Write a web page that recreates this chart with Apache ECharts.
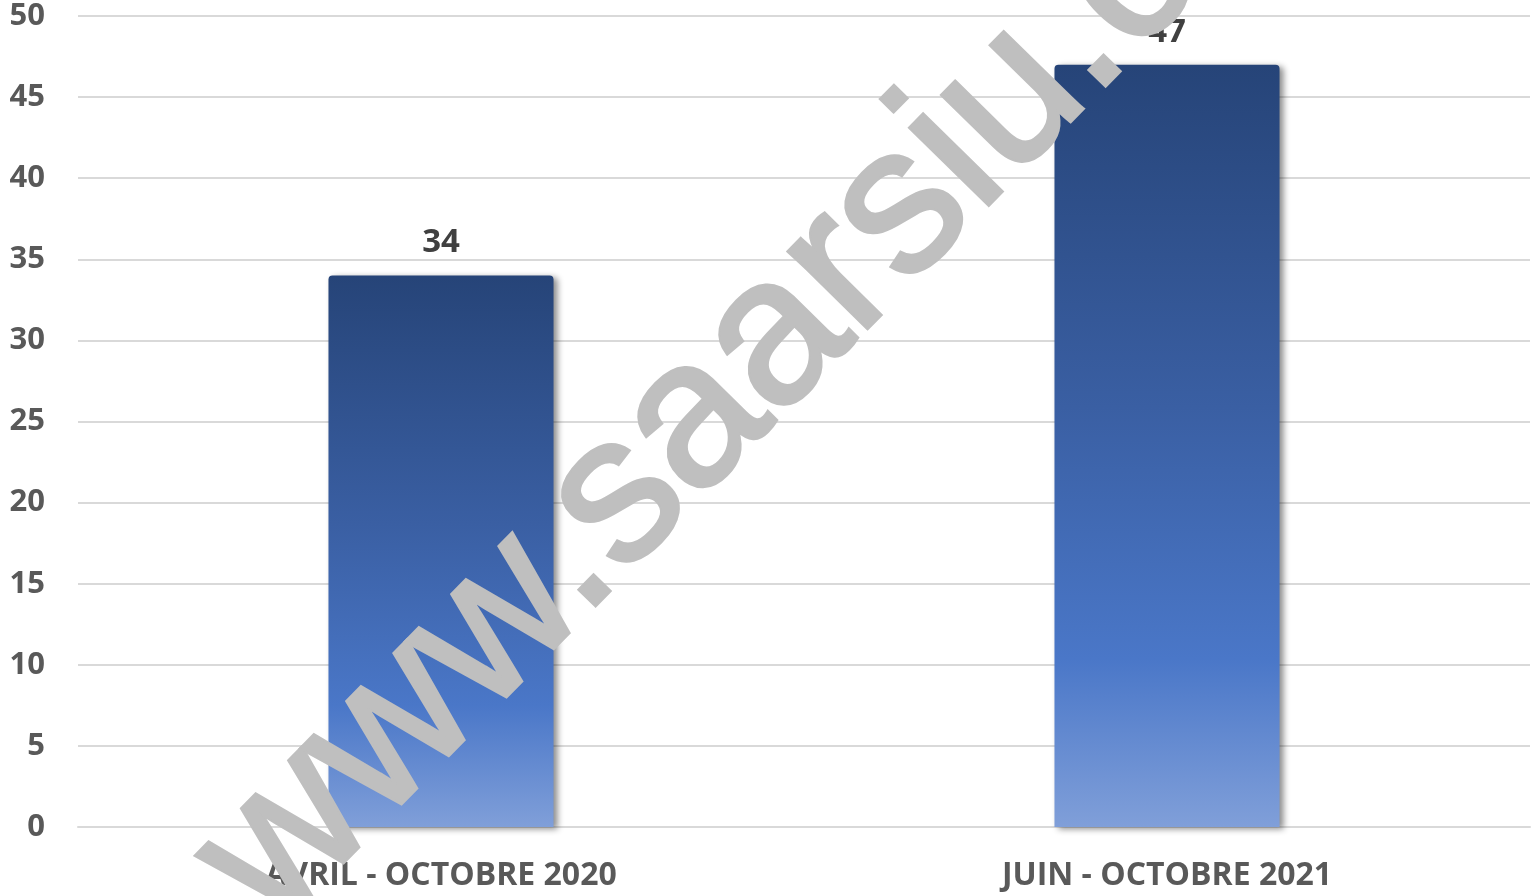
<!DOCTYPE html>
<html>
<head>
<meta charset="utf-8">
<script src="https://cdn.jsdelivr.net/npm/echarts@6/dist/echarts.min.js"></script>
<style>
  html, body { margin: 0; padding: 0; background: #fff; }
  #chart { width: 1532px; height: 896px; }
</style>
</head>
<body>
<div id="chart"></div>
<script>
// periods on the x axis
const periods = ['AVRIL - OCTOBRE 2020', 'JUIN - OCTOBRE 2021'];
// bar values
const values = [34, 47];
// y axis range
const yMin = 0, yMax = 50, yStep = 5;

const barColor = {
  type: 'linear', x: 0, y: 0, x2: 0, y2: 1,
  colorStops: [
    {offset: 0, color: '#264478'},
    {offset: 0.45, color: '#3a5fa3'},
    {offset: 0.78, color: '#4a77c8'},
    {offset: 1, color: '#809fd9'}
  ]
};

const chart = echarts.init(document.getElementById('chart'));
chart.setOption({
  animation: false,
  textStyle: { fontFamily: 'Open Sans' },
  grid: { left: 78, right: 2, top: 16, bottom: 69, containLabel: false },
  xAxis: {
    type: 'category',
    data: periods,
    axisLine: { show: true, lineStyle: { color: '#d9d9d9', width: 2 } },
    axisTick: { show: false },
    axisLabel: {
      margin: 33, color: '#595959', fontSize: 32, fontWeight: 'bold',
      fontFamily: 'Open Sans'
    }
  },
  yAxis: {
    type: 'value',
    min: yMin, max: yMax, interval: yStep,
    axisLine: { show: false },
    axisTick: { show: false },
    splitLine: { lineStyle: { color: '#d9d9d9', width: 2 } },
    axisLabel: {
      margin: 33, color: '#595959', fontSize: 31, fontWeight: 'bold',
      fontFamily: 'Open Sans'
    }
  },
  series: [{
    type: 'bar',
    data: values,
    barWidth: '31%',
    itemStyle: {
      color: barColor,
      borderRadius: [4, 4, 0, 0],
      shadowColor: 'rgba(0,0,0,0.45)',
      shadowBlur: 6,
      shadowOffsetX: 4,
      shadowOffsetY: 2
    },
    label: {
      show: true, position: 'top', distance: 16,
      color: '#404040', fontSize: 33, fontWeight: 'bold',
      fontFamily: 'Open Sans'
    }
  }],
  graphic: [{
    type: 'text',
    x: 308, y: 965,
    rotation: 0.795,
    z: 100,
    style: {
      text: 'www.saarsiu.com',
      fill: '#bfbfbf',
      stroke: '#bfbfbf',
      lineWidth: 4,
      font: '208px "Liberation Sans"',
      textAlign: 'left',
      textVerticalAlign: 'bottom'
    }
  }]
});
</script>
</body>
</html>
